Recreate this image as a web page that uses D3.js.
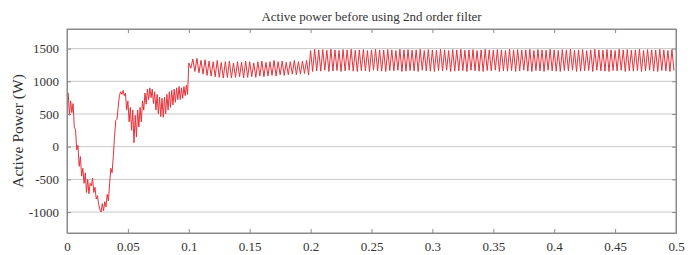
<!DOCTYPE html>
<html>
<head>
    <meta charset="utf-8">
    <title>Active power</title>
    <script src="https://d3js.org/d3.v7.min.js"></script>
    <style>
        body { margin: 0; background: #fff; }
        text { font-family: "Liberation Serif", "DejaVu Serif", serif; fill: #333; }
    </style>
</head>
<body>
    <script>
        // transient part, one reading every 1 ms from 0 to 0.099 s
        var transientStep = 0.001;
        var transient = [780, 820, 480, 700, 520, 660, 300, 260, -50, 20,
            -300, -150, -450, -330, -560, -400, -700, -500, -720, -560,
            -600, -480, -700, -620, -800, -750, -880, -960, -1000, -870,
            -980, -840, -920, -730, -830, -560, -330, -400, -150, 150,
            400, 420, 600, 780, 840, 800, 860, 780, 820, 560,
            700, 380, 600, 250, 560, 60, 480, 150, 560, 300,
            600, 380, 700, 560, 820, 650, 880, 720, 900, 750,
            880, 660, 840, 560, 800, 500, 760, 460, 740, 450,
            760, 500, 800, 560, 840, 600, 860, 640, 880, 680,
            900, 720, 920, 720, 900, 740, 920, 780, 940, 800];

        // 300 Hz ripple: peaks and troughs, one half period apart
        var halfPeriod = 1 / 600;
        var start1 = 0.1;
        var peaks1 = [1280, 1340, 1350, 1320, 1330, 1310, 1300, 1320, 1290, 1300,
            1310, 1280, 1300, 1290, 1310, 1300, 1280, 1300, 1310, 1290,
            1300, 1320, 1300, 1310, 1290, 1300, 1320, 1300, 1310, 1320];
        var troughs1 = [1200, 1150, 1130, 1110, 1090, 1080, 1070, 1060, 1050, 1060,
            1050, 1060, 1070, 1050, 1060, 1070, 1060, 1080, 1070, 1080,
            1090, 1080, 1100, 1090, 1100, 1110, 1100, 1110, 1120, 1100];

        var start2 = 0.2;
        var peaks2 = [1470, 1490, 1480, 1485, 1475, 1490, 1480, 1470, 1485, 1480,
            1490, 1475, 1480, 1485, 1470, 1480, 1490, 1480, 1475, 1485,
            1480, 1470, 1490, 1480, 1485, 1475, 1480, 1490, 1470, 1485,
            1480, 1475, 1490, 1480, 1470, 1485, 1480, 1490, 1475, 1480,
            1485, 1470, 1480, 1490, 1480, 1475, 1485, 1480, 1470, 1490,
            1480, 1485, 1475, 1480, 1490, 1470, 1485, 1480, 1475, 1490,
            1480, 1470, 1485, 1480, 1490, 1475, 1480, 1485, 1470, 1480,
            1490, 1480, 1475, 1485, 1480, 1470, 1490, 1480, 1485, 1475,
            1480, 1490, 1470, 1485, 1480, 1475, 1490, 1480, 1470, 1485];
        var troughs2 = [1150, 1160, 1155, 1170, 1150, 1160, 1165, 1150, 1160, 1170,
            1155, 1150, 1165, 1160, 1150, 1170, 1160, 1155, 1150, 1165,
            1160, 1170, 1150, 1155, 1165, 1160, 1150, 1170, 1160, 1155,
            1150, 1165, 1160, 1170, 1150, 1155, 1160, 1165, 1150, 1170,
            1160, 1155, 1150, 1165, 1160, 1170, 1150, 1160, 1155, 1165,
            1150, 1160, 1170, 1155, 1150, 1165, 1160, 1150, 1170, 1160,
            1155, 1150, 1165, 1160, 1170, 1150, 1155, 1160, 1165, 1150,
            1170, 1160, 1155, 1150, 1165, 1160, 1170, 1150, 1160, 1155,
            1165, 1150, 1160, 1170, 1155, 1150, 1165, 1160, 1150, 1165];

        var xTicks = [0, 0.05, 0.1, 0.15, 0.2, 0.25, 0.3, 0.35, 0.4, 0.45, 0.5];
        var yTicks = [-1000, -500, 0, 500, 1000, 1500];

        var width = 690;
        var height = 255;
        var mLeft = 67, mRight = 676, mTop = 29, mBottom = 233;

        // build the point list from the arrays
        var points = transient.map(function(v, i) { return [i * transientStep, v]; });
        function addRipple(t0, peaks, troughs) {
            peaks.forEach(function(p, i) {
                points.push([t0 + 2 * i * halfPeriod, p]);
                points.push([t0 + (2 * i + 1) * halfPeriod, troughs[i]]);
            });
        }
        addRipple(start1, peaks1, troughs1);
        addRipple(start2, peaks2, troughs2);

        var x = d3.scaleLinear().domain([0, 0.5]).range([mLeft, mRight]);
        var y = d3.scaleLinear().domain([-1320, 1800]).range([mBottom, mTop]);

        var svg = d3.select("body").append("svg")
            .attr("width", width)
            .attr("height", height);

        // grid
        svg.append("g").selectAll("line")
            .data(yTicks)
            .enter().append("line")
            .attr("x1", mLeft).attr("x2", mRight)
            .attr("y1", function(d) { return y(d); })
            .attr("y2", function(d) { return y(d); })
            .style("stroke", "#c8c8c8")
            .style("stroke-width", 1);

        // signal
        var line = d3.line()
            .x(function(d) { return x(d[0]); })
            .y(function(d) { return y(d[1]); });
        svg.append("path")
            .datum(points)
            .attr("d", line)
            .style("fill", "none")
            .style("stroke", "#e8323a")
            .style("stroke-width", 1);

        // box
        svg.append("rect")
            .attr("x", mLeft).attr("y", mTop)
            .attr("width", mRight - mLeft).attr("height", mBottom - mTop)
            .style("fill", "none")
            .style("stroke", "#8a8a8a")
            .style("stroke-width", 1);

        // axes, ticks inward like matlab
        var plain = function(d) { return String(d); };
        var xAxis = d3.axisBottom(x).tickValues(xTicks).tickSizeInner(-4).tickSizeOuter(0)
            .tickPadding(9).tickFormat(plain);
        var gx = svg.append("g").attr("transform", "translate(0," + mBottom + ")").call(xAxis);
        var gxTop = svg.append("g").attr("transform", "translate(0," + mTop + ")")
            .call(d3.axisTop(x).tickValues(xTicks).tickSizeInner(-4).tickSizeOuter(0).tickFormat(""));
        var yAxis = d3.axisLeft(y).tickValues(yTicks).tickSizeInner(-4).tickSizeOuter(0)
            .tickPadding(8).tickFormat(plain);
        var gy = svg.append("g").attr("transform", "translate(" + mLeft + ",0)").call(yAxis);
        var gyRight = svg.append("g").attr("transform", "translate(" + mRight + ",0)")
            .call(d3.axisRight(y).tickValues(yTicks).tickSizeInner(-4).tickSizeOuter(0).tickFormat(""));

        [gx, gxTop, gy, gyRight].forEach(function(g) {
            g.select(".domain").style("stroke", "#8a8a8a");
            g.selectAll(".tick line").style("stroke", "#8a8a8a");
            g.selectAll("text")
                .style("font-family", "'Liberation Serif', serif")
                .style("font-size", "13px")
                .style("fill", "#333");
        });

        svg.append("text")
            .attr("x", (mLeft + mRight) / 2)
            .attr("y", 21)
            .attr("text-anchor", "middle")
            .style("font-size", "13px")
            .text("Active power before using 2nd order filter");

        svg.append("text")
            .attr("transform", "translate(23," + (mTop + mBottom) / 2 + ") rotate(-90)")
            .attr("text-anchor", "middle")
            .style("font-size", "15.5px")
            .text("Active Power (W)");
    </script>
</body>
</html>
